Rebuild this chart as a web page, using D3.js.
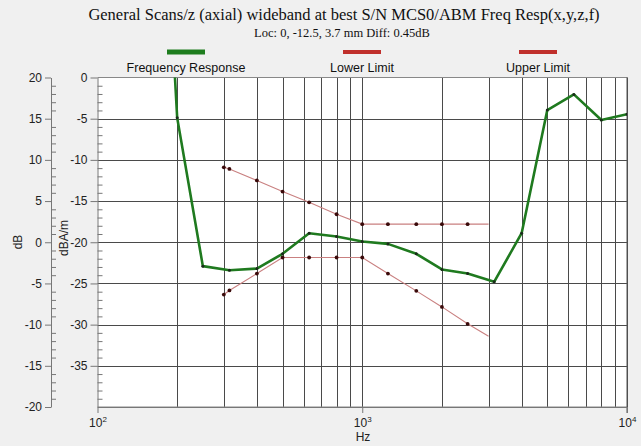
<!DOCTYPE html>
<html><head><meta charset="utf-8">
<script src="https://cdn.jsdelivr.net/npm/d3@7"></script>
<style>
html,body{margin:0;padding:0;background:#f0f0f0;}
svg{display:block;}
text{font-family:"Liberation Sans",Arial,sans-serif;}
</style></head>
<body>
<script>
// ---- data ----
const titleText = "General Scans/z (axial) wideband at best S/N MCS0/ABM Freq Resp(x,y,z,f)";
const subtitleText = "Loc: 0, -12.5, 3.7 mm Diff: 0.45dB";
const legendLabels = ["Frequency Response", "Lower Limit", "Upper Limit"];
const respFreq = [190, 200, 250, 315, 400, 500, 630, 800, 1000, 1250, 1600, 2000, 2500, 3150, 4000, 5000, 6300, 8000, 10000];
const respVal  = [8, -4.9, -22.9, -23.4, -23.2, -21.4, -18.9, -19.3, -19.9, -20.2, -21.4, -23.3, -23.8, -24.8, -18.9, -3.95, -2.05, -5.15, -4.45];
const upperFreq = [300, 315, 400, 500, 630, 800, 1000, 1250, 1600, 2000, 2500, 3000];
const upperVal  = [-10.9, -11.1, -12.5, -13.85, -15.15, -16.6, -17.8, -17.8, -17.8, -17.8, -17.8, -17.8];
const lowerFreq = [300, 315, 400, 500, 630, 800, 1000, 1250, 1600, 2000, 2500, 3000];
const lowerVal  = [-26.35, -25.85, -23.8, -21.85, -21.85, -21.85, -21.85, -23.8, -25.9, -27.85, -29.9, -31.4];
const dBTicks = [20, 15, 10, 5, 0, -5, -10, -15, -20];
const dBAmTicks = [0, -5, -10, -15, -20, -25, -30, -35];
const xDecades = [100, 1000, 10000];
const xExps = ["2", "3", "4"];

// ---- layout ----
const W = 641, H = 446;
const L = 97.5, R = 627, T = 77.5, B = 407;
const svg = d3.select("body").append("svg").attr("width", W).attr("height", H);
svg.append("rect").attr("width", W).attr("height", H).attr("fill", "#f0f0f0");

const x = d3.scaleLog().domain([100, 10000]).range([L, R]);
const y = d3.scaleLinear().domain([-40, 0]).range([B, T]);       // dBA/m
const y2 = d3.scaleLinear().domain([-20, 20]).range([B, T]);     // dB

// title
svg.append("text").attr("x", 344).attr("y", 20).attr("text-anchor", "middle")
  .style("font-family", "'Liberation Serif','Times New Roman',serif").style("font-size", "16.5px").attr("fill", "#111").text(titleText);
svg.append("text").attr("x", 342).attr("y", 37).attr("text-anchor", "middle")
  .style("font-family", "'Liberation Serif','Times New Roman',serif").style("font-size", "12.5px").attr("fill", "#111").text(subtitleText);

// legend
const legX = [186, 362, 538];
const legCol = ["#1e7d1e", "#c0302c", "#c0302c"];
const legH = [5, 4, 4];
legendLabels.forEach((lab, i) => {
  svg.append("rect").attr("x", legX[i] - 19).attr("y", 52 - legH[i] / 2).attr("width", 38).attr("height", legH[i]).attr("fill", legCol[i]);
  svg.append("text").attr("x", legX[i]).attr("y", 72).attr("text-anchor", "middle").style("font-size", "12.5px").attr("fill", "#111").text(lab);
});

// plot background
svg.append("rect").attr("x", L).attr("y", T).attr("width", R - L).attr("height", B - T).attr("fill", "#fff");

// grid
const gridX = [];
[100, 1000].forEach(d => { for (let k = 2; k <= 9; k++) gridX.push(d * k); });
gridX.push(1000, 10000);
svg.append("g").selectAll("line").data(gridX).join("line")
  .attr("x1", d => Math.round(x(d)) + 0.5).attr("x2", d => Math.round(x(d)) + 0.5)
  .attr("y1", T).attr("y2", B).attr("stroke", "#4a4a4a").attr("stroke-width", 1);
const gridY = [-5, -10, -15, -20, -25, -30, -35];
svg.append("g").selectAll("line").data(gridY).join("line")
  .attr("x1", L).attr("x2", R)
  .attr("y1", d => Math.round(y(d)) + 0.5).attr("y2", d => Math.round(y(d)) + 0.5)
  .attr("stroke", "#4a4a4a").attr("stroke-width", 1);

// plot border
svg.append("line").attr("x1", L).attr("x2", R).attr("y1", T).attr("y2", T).attr("stroke", "#888");
svg.append("line").attr("x1", L).attr("x2", R).attr("y1", B).attr("y2", B).attr("stroke", "#888");
svg.append("line").attr("x1", R).attr("x2", R).attr("y1", T).attr("y2", B + 6).attr("stroke", "#555");

// clip
svg.append("clipPath").attr("id", "clip").append("rect").attr("x", L).attr("y", T).attr("width", R - L).attr("height", B - T);
const plot = svg.append("g").attr("clip-path", "url(#clip)");

const line = d3.line().x(d => x(d[0])).y(d => y(d[1]));
const up = upperFreq.map((f, i) => [f, upperVal[i]]);
const lo = lowerFreq.map((f, i) => [f, lowerVal[i]]);
const rs = respFreq.map((f, i) => [f, respVal[i]]);

[up, lo].forEach(pts => {
  plot.append("path").datum(pts).attr("d", line).attr("fill", "none").attr("stroke", "#c98080").attr("stroke-width", 1.1);
  plot.append("g").selectAll("circle").data(pts.slice(0, -1)).join("circle")
    .attr("cx", d => x(d[0])).attr("cy", d => y(d[1])).attr("r", 1.9).attr("fill", "#3a0a0a");
});
plot.append("path").datum(rs).attr("d", line).attr("fill", "none").attr("stroke", "#1f7a1f").attr("stroke-width", 2.6).attr("stroke-linejoin", "round");
plot.append("g").selectAll("circle").data(rs).join("circle")
  .attr("cx", d => x(d[0])).attr("cy", d => y(d[1])).attr("r", 1.5).attr("fill", "#1a2a1a");

// axes styling helper
function style(g) {
  g.selectAll("path.domain").attr("stroke", "#777");
  g.selectAll(".tick line").attr("stroke", "#777");
  g.selectAll(".tick text").style("font-size", "12px").style("font-family", "'Liberation Sans',Arial,sans-serif").attr("fill", "#222");
}
function fmt(d) { return d < 0 ? "-" + Math.abs(d) : String(d); }

// outer dB axis
const dBX = 51;
const gdB = svg.append("g").attr("transform", `translate(${dBX},0)`)
  .call(d3.axisLeft(y2).tickValues(dBTicks).tickSize(6).tickSizeOuter(0).tickPadding(3).tickFormat(fmt));
style(gdB);
const dBMinor = d3.range(-20, 21, 1).filter(v => v % 5 !== 0);
const gdBm = svg.append("g").attr("transform", `translate(${dBX},0)`)
  .call(d3.axisRight(y2).tickValues(dBMinor).tickSize(5).tickSizeOuter(0).tickFormat(""));
gdBm.select("path.domain").remove();
style(gdBm);

// inner dBA/m axis
const gA = svg.append("g").attr("transform", `translate(${L},0)`)
  .call(d3.axisLeft(y).tickValues(dBAmTicks).tickSize(7).tickSizeOuter(0).tickPadding(3).tickFormat(fmt));
style(gA);
const aMinor = d3.range(-40, 1, 1).filter(v => v % 5 !== 0);
const gAm = svg.append("g").attr("transform", `translate(${L},0)`)
  .call(d3.axisRight(y).tickValues(aMinor).tickSize(5).tickSizeOuter(0).tickFormat(""));
gAm.select("path.domain").remove();
style(gAm);

// x axis
const gx = svg.append("g").attr("transform", `translate(0,${B})`)
  .call(d3.axisBottom(x).tickValues(xDecades).tickSize(6).tickSizeOuter(0).tickPadding(3).tickFormat(""));
style(gx);
gx.selectAll(".tick").each(function (d, i) {
  const t = d3.select(this).append("text").attr("y", 20).attr("text-anchor", "middle").attr("fill", "#222").style("font-size", "12px");
  t.append("tspan").text("10");
  t.append("tspan").attr("dy", -5).style("font-size", "8px").text(xExps[i]);
});

// axis titles
svg.append("text").attr("x", 363).attr("y", 441).attr("text-anchor", "middle").style("font-size", "12px").attr("fill", "#222").text("Hz");
svg.append("text").attr("transform", "translate(22,242) rotate(-90)").attr("text-anchor", "middle").style("font-size", "12px").attr("fill", "#222").text("dB");
svg.append("text").attr("transform", "translate(68,238) rotate(-90)").attr("text-anchor", "middle").style("font-size", "12px").attr("fill", "#222").text("dBA/m");
</script>
</body></html>
